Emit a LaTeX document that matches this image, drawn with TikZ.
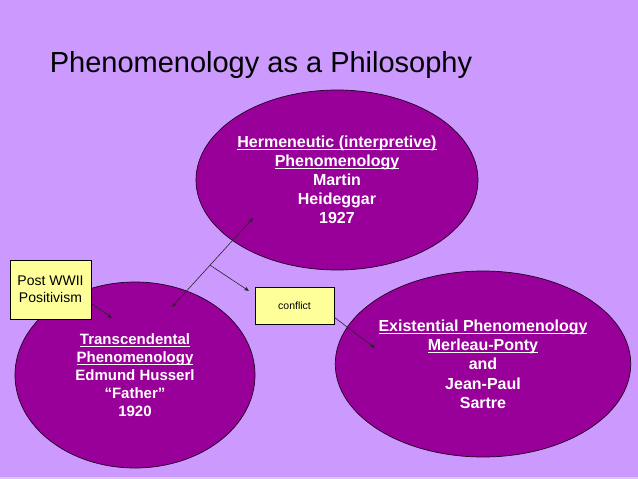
\documentclass[tikz,border=0pt]{standalone}
\usepackage{fontspec}
\setmainfont{Liberation Sans}
\usepackage{tikz}
\usetikzlibrary{arrows.meta,positioning,calc,shapes.geometric}
\definecolor{slidebg}{RGB}{204,153,255}
\definecolor{bubblecol}{RGB}{153,0,153}
\definecolor{notecol}{RGB}{255,255,153}
\newcommand{\ulined}[1]{\leavevmode\setbox0\hbox{#1}%
  \rlap{\vrule height -1.5pt depth 2.3pt width \wd0}\box0}

\begin{document}
\begin{tikzpicture}[x=1pt, y=-1pt,
    bubble/.style={ellipse, draw=black!80!bubblecol, line width=0.7pt, fill=bubblecol,
      text=white, align=center, inner sep=0pt},
    notebox/.style={rectangle, draw=black, line width=0.7pt, fill=notecol,
      align=center, inner sep=0pt},
    link/.style={-{Stealth[length=5pt,width=4pt]}, line width=0.6pt, black!85},
    >=Stealth]
    % Background
    \fill[slidebg] (0,0) rectangle (638,479);
    \fill[slidebg!60!white] (0,477) rectangle (638,479);
    \useasboundingbox (0,0) rectangle (638,479);
    % Title
    \node[anchor=base, font=\fontsize{29}{34}\selectfont] (title) at (261,72)
      {Phenomenology as a Philosophy};
    % Ellipses
    \node[bubble, minimum width=282pt, minimum height=180pt,
      font=\fontsize{16}{19}\selectfont\bfseries] (heidegger) at (337,180)
      {\ulined{Hermeneutic (interpretive)}\\ \ulined{Phenomenology}\\ Martin\\ Heideggar\\ 1927};
    \node[bubble, minimum width=240pt, minimum height=186pt,
      font=\fontsize{15}{18}\selectfont\bfseries] (husserl) at (135,375)
      {\ulined{Transcendental}\\ \ulined{Phenomenology}\\ Edmund Husserl\\ ``Father''\\ 1920};
    \node[bubble, minimum width=287pt, minimum height=186pt,
      font=\fontsize{16}{19.3}\selectfont\bfseries] (existential) at (483,364)
      {\ulined{Existential Phenomenology}\\ \ulined{Merleau-Ponty}\\ and\\ Jean-Paul\\ Sartre};
    % Notes
    \node[notebox, minimum width=81pt, minimum height=59pt,
      font=\fontsize{14}{17}\selectfont] (postww) at (50.5,289.5)
      {Post WWII\\ Positivism};
    \node[notebox, minimum width=79pt, minimum height=37pt,
      font=\fontsize{10.5}{12}\selectfont] (conflict) at (294.5,305.5) {conflict};
    % Arrow ends
    \coordinate (postwwtip) at (112,318);
    \coordinate (husserltip) at (172,307);
    \coordinate (heideggertip) at (253,218);
    \coordinate (conflicttip) at (249,291);
    \coordinate (existtip) at (375,348);
    % Arrows
    \draw[link] ($(postww.south east)+(0,-16)$) -- (postwwtip);
    \draw[link, {Stealth[length=5pt,width=4pt]}-{Stealth[length=5pt,width=4pt]}]
      (husserltip) -- (heideggertip) coordinate[pos=0.47] (branch);
    \draw[link] (branch) -- (conflicttip);
    \draw[link] ($(conflict.south east)+(0,-7)$) -- (existtip);
  \end{tikzpicture}
\end{document}
